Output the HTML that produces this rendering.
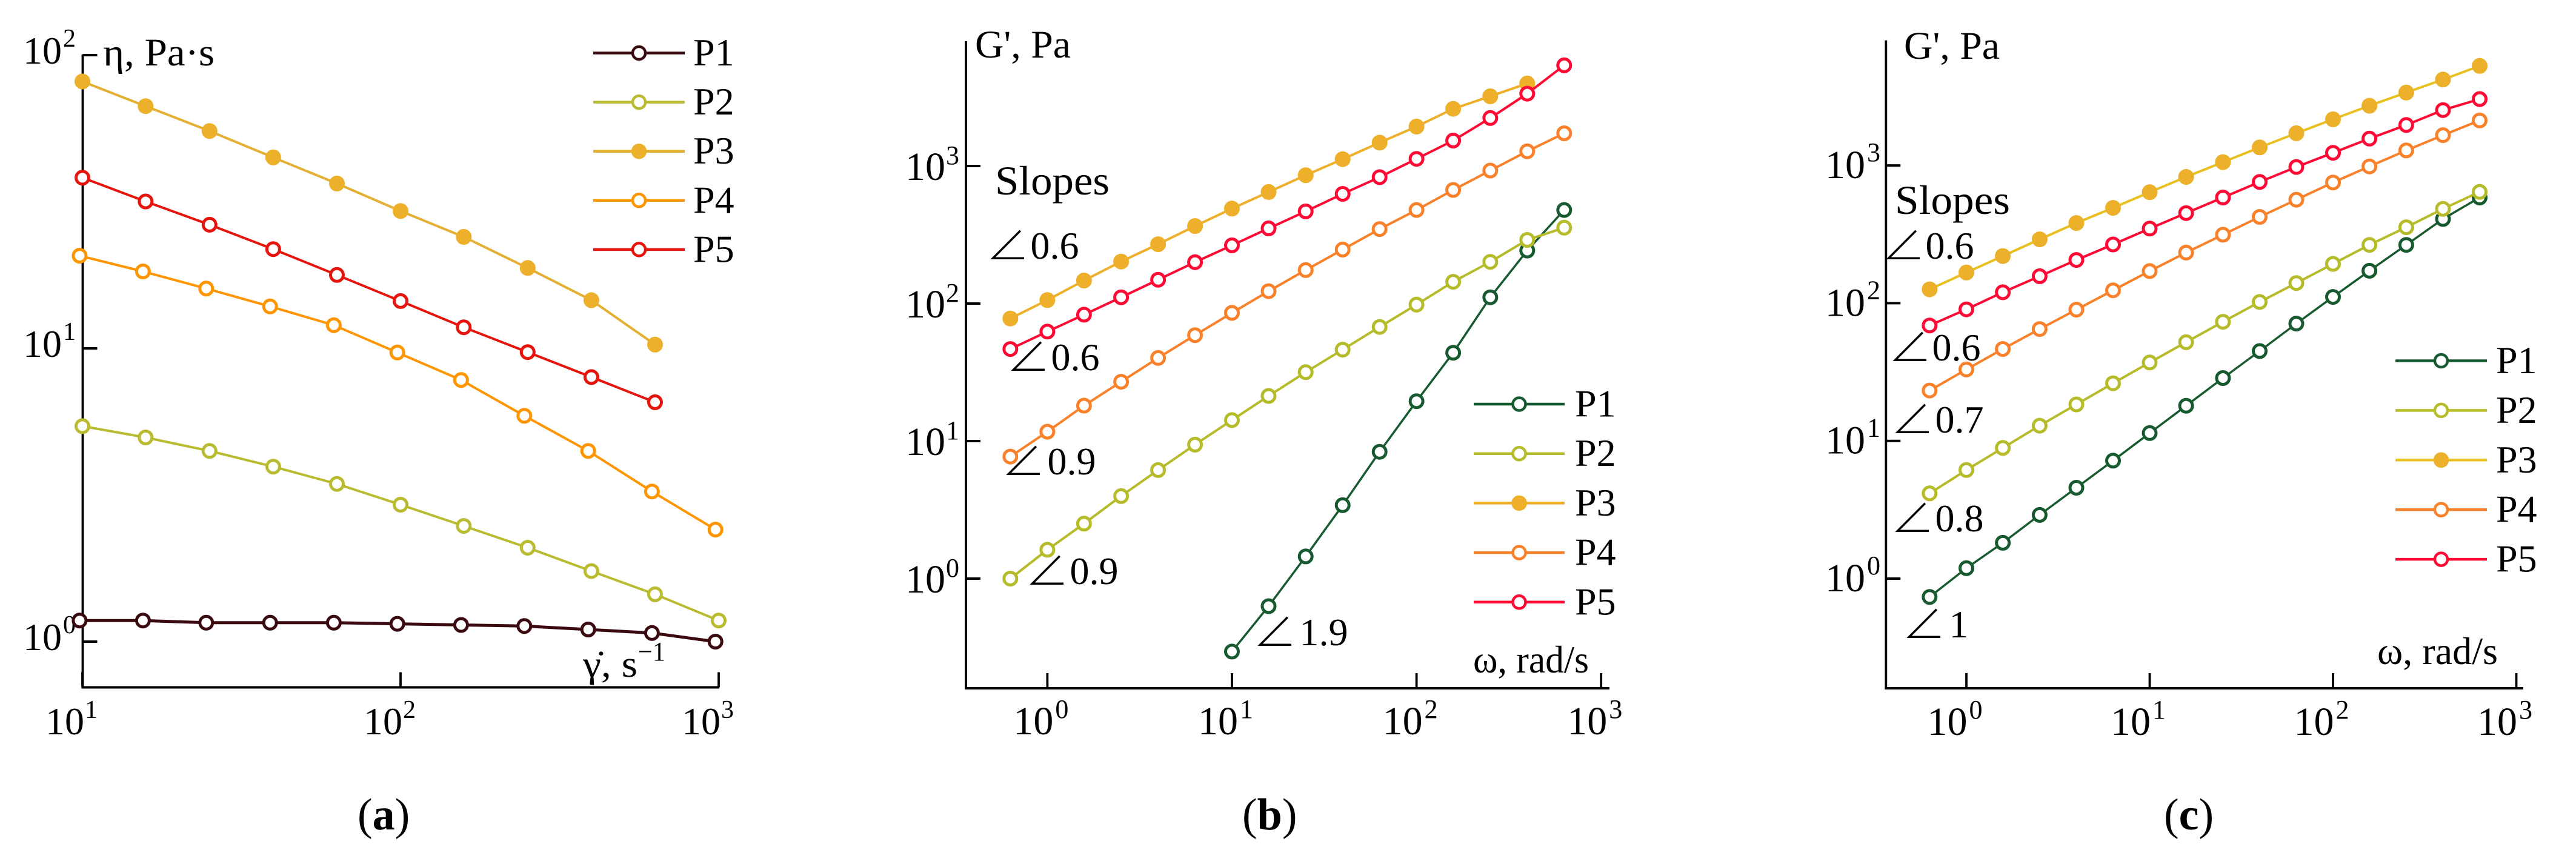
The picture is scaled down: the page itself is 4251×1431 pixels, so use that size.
<!DOCTYPE html>
<html lang="en">
<head>
<meta charset="utf-8">
<title>Rheology log-log charts</title>
<style>
html,body{margin:0;padding:0;background:#fff;}
svg{display:block;}
text{font-family:"Liberation Serif","DejaVu Serif",serif;fill:#000;}
</style>
</head>
<body>
<svg id="figure" xmlns="http://www.w3.org/2000/svg" width="4251" height="1431" viewBox="0 0 4251 1431">
<rect width="4251" height="1431" fill="#fff"/>
</svg>
<script>
// Panel (a): viscosity vs shear rate
const shearRate = [10, 15.8, 25.1, 39.8, 63.1, 100, 158, 251, 398, 631, 1000];
const shearRateOffset = [9.8, 15.5, 24.5, 38.9, 61.7, 97.7, 155, 245, 389, 617, 977];
const etaP1 = [1.18, 1.18, 1.16, 1.16, 1.16, 1.15, 1.14, 1.13, 1.10, 1.07, 1.00];
const etaP2 = [5.43, 4.97, 4.47, 3.95, 3.45, 2.93, 2.48, 2.09, 1.74, 1.45, 1.18];
const etaP3 = [81.3, 67.0, 55.1, 44.8, 36.5, 29.4, 24.0, 18.8, 14.6, 10.3];
const etaP4 = [20.7, 18.3, 16.0, 13.9, 12.0, 9.68, 7.80, 5.89, 4.47, 3.25, 2.41];
const etaP5 = [38.2, 31.7, 26.4, 21.8, 17.8, 14.5, 11.8, 9.71, 7.98, 6.55];
const panelAXTicks = [1, 2, 3];
const panelAYTicks = [0, 1, 2];

// Panel (b): G' vs angular frequency
const omega = [0.63, 1, 1.58, 2.51, 3.98, 6.31, 10, 15.8, 25.1, 39.8, 63.1, 100, 158, 251, 398, 631];
const omegaP1B = [10, 15.8, 25.1, 39.8, 63.1, 100, 158, 251, 398, 631];
const gbP1 = [0.295, 0.630, 1.45, 3.42, 8.36, 19.5, 43.9, 111, 243, 479];
const gbP2 = [1.00, 1.62, 2.51, 3.98, 6.15, 9.42, 14.2, 21.3, 31.7, 46.2, 67.6, 98.2, 144, 201, 290, 356];
const gbP3 = [77.8, 106, 147, 202, 270, 366, 490, 647, 857, 1122, 1479, 1936, 2606, 3214, 3981];
const gbP4 = [7.71, 11.7, 18.1, 27.0, 40.2, 58.9, 85.5, 123, 175, 247, 348, 479, 670, 927, 1279, 1730];
const gbP5 = [46.7, 62.5, 83.0, 111, 149, 200, 265, 352, 468, 627, 830, 1127, 1531, 2234, 3357, 5395];
const panelBXTicks = [0, 1, 2, 3];
const panelBYTicks = [0, 1, 2, 3];

// Panel (c): G' vs angular frequency
const gcP1 = [0.736, 1.19, 1.82, 2.90, 4.57, 7.19, 11.4, 18.0, 28.6, 44.9, 71.1, 111, 172, 265, 409, 585];
const gcP2 = [4.16, 6.14, 8.89, 12.9, 18.4, 26.2, 37.1, 52.1, 73.3, 102, 140, 193, 265, 356, 484, 643];
const gcP3 = [126, 167, 220, 291, 382, 492, 640, 826, 1057, 1352, 1714, 2163, 2716, 3381, 4207, 5284];
const gcP4 = [23.2, 33.0, 46.5, 64.9, 89.7, 124, 171, 233, 314, 423, 564, 752, 984, 1285, 1660, 2123];
const gcP5 = [68.9, 90.2, 120, 157, 206, 267, 348, 451, 585, 759, 975, 1236, 1567, 1968, 2523, 3034];
const panelCXTicks = [0, 1, 2, 3];
const panelCYTicks = [0, 1, 2, 3];

const seriesNames = ['P1', 'P2', 'P3', 'P4', 'P5'];

const NS = 'http://www.w3.org/2000/svg';
const root = document.getElementById('figure');

function make(parent, tag, attrs, name) {
  const el = document.createElementNS(NS, tag);
  for (const k in attrs) el.setAttribute(k, attrs[k]);
  
  
  parent.appendChild(el);
  return el;
}
function label(parent, x, y, str, size, name, width) {
  const a = { x: x, y: y, 'font-size': size };
  if (width) { a.textLength = width; a.lengthAdjust = 'spacingAndGlyphs'; }
  const t = make(parent, 'text', a, name);
  t.textContent = str;
  return t;
}
function power(parent, x, y, exp, name, size, supSize, supDx, supDy) {
  label(parent, x, y, '10', size, name + '-base');
  label(parent, x + supDx, y + supDy, String(exp), supSize, name + '-exponent');
}
function drawSeries(parent, name, xs, ys, sx, sy, color, markColor, filled, lw) {
  const g = make(parent, 'g', {}, 'series-' + name);
  const pts = ys.map((v, i) => sx(xs[i]).toFixed(1) + ',' + sy(v).toFixed(1)).join(' ');
  make(g, 'polyline', { points: pts, fill: 'none', stroke: color, 'stroke-width': lw }, name + '-line');
  ys.forEach((v, i) => {
    make(g, 'circle', { cx: sx(xs[i]).toFixed(1), cy: sy(v).toFixed(1), r: 10.5, fill: filled ? markColor : '#fff', stroke: markColor, 'stroke-width': 5 }, name + '-point');
  });
}
function drawLegend(parent, x1, x2, yTop, step, textX, colors, markColors, filled) {
  const g = make(parent, 'g', {}, 'legend');
  seriesNames.forEach((n, i) => {
    const y = yTop + i * step;
    make(g, 'line', { x1: x1, x2: x2, y1: y, y2: y, stroke: colors[i], 'stroke-width': 4.5 }, 'legend-line-' + n);
    make(g, 'circle', { cx: (x1 + x2) / 2, cy: y, r: 10.5, fill: filled[i] ? markColors[i] : '#fff', stroke: markColors[i], 'stroke-width': 4.5 }, 'legend-marker-' + n);
    label(g, textX, y + 20.5, n, 64, 'legend-label-' + n);
  });
}
function drawAxes(parent, cfg) {
  const g = make(parent, 'g', {}, 'axes');
  make(g, 'line', { x1: cfg.axisX, x2: cfg.axisX, y1: cfg.top, y2: cfg.bottom + 2, stroke: '#000', 'stroke-width': 3.8 }, 'y-axis');
  make(g, 'line', { x1: cfg.axisX - 2, x2: cfg.right, y1: cfg.bottom, y2: cfg.bottom, stroke: '#000', 'stroke-width': 4 }, 'x-axis');
  cfg.xTicks.forEach(e => {
    const x = cfg.sx(Math.pow(10, e));
    make(g, 'line', { x1: x, x2: x, y1: cfg.bottom, y2: cfg.bottom - 25, stroke: '#000', 'stroke-width': 3.8 }, 'x-tick');
    power(g, x + cfg.xLabelDx, cfg.xLabelY, e, 'x-tick-label', cfg.tenSize, cfg.supSize, cfg.xSupDx, -27);
  });
  cfg.yTicks.forEach(e => {
    const y = cfg.sy(Math.pow(10, e));
    make(g, 'line', { x1: cfg.axisX, x2: cfg.axisX + 24, y1: y, y2: y, stroke: '#000', 'stroke-width': 4 }, 'y-tick');
    power(g, cfg.yLabelX, y + cfg.yLabelDy, e, 'y-tick-label', cfg.tenSize, cfg.supSize, cfg.ySupDx, cfg.ySupDy);
  });
}
function logScale(origin, decade, sign) {
  return v => origin + sign * decade * Math.log10(v);
}
function slopeNote(parent, angleX, numX, y, value, name) {
  const g = make(parent, 'g', {}, name);
  const a = label(g, angleX - 8, y + 3, '\u2220', 72, name + '-angle');
  a.setAttribute('style', 'font-family:"Noto Sans CJK JP","DejaVu Sans",sans-serif;font-weight:300');
  label(g, numX - 1.5, y, value, 64, name + '-value');
}
function caption(parent, x, letter, name) {
  const t = make(parent, 'text', { x: x, y: 1369, 'font-size': 74 }, name);
  const a = document.createElementNS(NS, 'tspan');
  a.textContent = '(';
  t.appendChild(a);
  const b = document.createElementNS(NS, 'tspan');
  b.setAttribute('font-weight', 'bold');
  b.textContent = letter;
  t.appendChild(b);
  const c = document.createElementNS(NS, 'tspan');
  c.textContent = ')';
  t.appendChild(c);
}

/* ---------- Panel a ---------- */
const panelA = make(root, 'g', {}, 'panel-a');
const ax = logScale(136 - 525, 525, 1);
const ay = logScale(1059, 484, -1);
drawAxes(panelA, { axisX: 136.5, top: 90, bottom: 1134.5, right: 1187, sx: ax, sy: ay, xTicks: panelAXTicks, yTicks: panelAYTicks,
  xLabelDx: -61, xLabelY: 1212, xSupDx: 65, yLabelX: 38, yLabelDy: 14, ySupDx: 66, ySupDy: -28, tenSize: 64, supSize: 42 });
const colA = ['#3a0a10', '#b9bb30', '#e4b033', '#ff9500', '#e5150d'];
const markA = ['#3a0a10', '#b9bb30', '#edb02a', '#ff9500', '#e5150d'];
drawSeries(panelA, 'P1', shearRateOffset, etaP1, ax, ay, colA[0], markA[0], false, 5);
drawSeries(panelA, 'P2', shearRate, etaP2, ax, ay, colA[1], markA[1], false, 4);
drawSeries(panelA, 'P3', shearRate, etaP3, ax, ay, colA[2], markA[2], true, 4);
drawSeries(panelA, 'P4', shearRateOffset, etaP4, ax, ay, colA[3], markA[3], false, 4);
drawSeries(panelA, 'P5', shearRate, etaP5, ax, ay, colA[4], markA[4], false, 4);
drawLegend(panelA, 979, 1130, 87.5, 81.1, 1144, colA, markA, [false, false, true, false, false]);
label(panelA, 170, 108, '\u03B7, Pa\u00B7s', 65, 'y-axis-title', 184);
label(panelA, 962, 1117, '\u03B3\u0307, s', 62, 'x-axis-title', 90);
label(panelA, 1053, 1090, '\u22121', 44, 'x-axis-title-exponent', 45);
caption(panelA, 590, 'a', 'caption-a');

/* ---------- Panel b ---------- */
const panelB = make(root, 'g', {}, 'panel-b');
const bx = logScale(1728.4, 304.6, 1);
const by = logScale(955, 227, -1);
drawAxes(panelB, { axisX: 1594, top: 68, bottom: 1136, right: 2656, sx: bx, sy: by, xTicks: panelBXTicks, yTicks: panelBYTicks,
  xLabelDx: -56, xLabelY: 1212, xSupDx: 69, yLabelX: 1494, yLabelDy: 23, ySupDx: 67, ySupDy: -26, tenSize: 66, supSize: 44 });
const colB = ['#175a30', '#b6bb2a', '#eeb02a', '#f9812a', '#ff0a35'];
const markB = colB;
drawSeries(panelB, 'P1', omegaP1B, gbP1, bx, by, colB[0], markB[0], false, 3.5);
drawSeries(panelB, 'P2', omega, gbP2, bx, by, colB[1], markB[1], false, 4);
drawSeries(panelB, 'P3', omega, gbP3, bx, by, colB[2], markB[2], true, 4);
drawSeries(panelB, 'P4', omega, gbP4, bx, by, colB[3], markB[3], false, 4);
drawSeries(panelB, 'P5', omega, gbP5, bx, by, colB[4], markB[4], false, 4);
drawLegend(panelB, 2432, 2582, 667, 81.7, 2599, colB, markB, [false, false, true, false, false]);
label(panelB, 1609, 95, "G', Pa", 65, 'y-axis-title', 158);
label(panelB, 2431, 1110, '\u03C9, rad/s', 64, 'x-axis-title', 191);
label(panelB, 1642, 321, 'Slopes', 68, 'slopes-heading', 189);
slopeNote(panelB, 1635, 1702, 427, '0.6', 'slope-p3');
slopeNote(panelB, 1669, 1736, 611, '0.6', 'slope-p5');
slopeNote(panelB, 1661, 1730, 783, '0.9', 'slope-p4');
slopeNote(panelB, 1700, 1767, 964, '0.9', 'slope-p2');
slopeNote(panelB, 2076, 2146, 1065, '1.9', 'slope-p1');
caption(panelB, 2050, 'b', 'caption-b');

/* ---------- Panel c ---------- */
const panelC = make(root, 'g', {}, 'panel-c');
const cx = logScale(3245, 302.5, 1);
const cy = logScale(955, 227.3, -1);
drawAxes(panelC, { axisX: 3112.3, top: 66.6, bottom: 1136, right: 4164, sx: cx, sy: cy, xTicks: panelCXTicks, yTicks: panelCYTicks,
  xLabelDx: -64.5, xLabelY: 1213, xSupDx: 69, yLabelX: 3012, yLabelDy: 21, ySupDx: 69, ySupDy: -28, tenSize: 66, supSize: 44 });
const colC = ['#175a30', '#b6bb2a', '#e8c020', '#f9812a', '#ff0a35'];
const markC = ['#175a30', '#b6bb2a', '#edb02a', '#f9812a', '#ff0a35'];
drawSeries(panelC, 'P1', omega, gcP1, cx, cy, colC[0], markC[0], false, 3.5);
drawSeries(panelC, 'P2', omega, gcP2, cx, cy, colC[1], markC[1], false, 4);
drawSeries(panelC, 'P3', omega, gcP3, cx, cy, colC[2], markC[2], true, 4);
drawSeries(panelC, 'P4', omega, gcP4, cx, cy, colC[3], markC[3], false, 4);
drawSeries(panelC, 'P5', omega, gcP5, cx, cy, colC[4], markC[4], false, 4);
drawLegend(panelC, 3953, 4104, 595.5, 81.9, 4119, colC, markC, [false, false, true, false, false]);
label(panelC, 3142, 97, "G', Pa", 65, 'y-axis-title', 158);
label(panelC, 3923, 1096, '\u03C9, rad/s', 64, 'x-axis-title', 199);
label(panelC, 3127, 353, 'Slopes', 68, 'slopes-heading', 190);
slopeNote(panelC, 3113, 3179, 427, '0.6', 'slope-p3');
slopeNote(panelC, 3124, 3190, 595, '0.6', 'slope-p5');
slopeNote(panelC, 3128, 3195, 714, '0.7', 'slope-p4');
slopeNote(panelC, 3128, 3195, 877, '0.8', 'slope-p2');
slopeNote(panelC, 3147, 3218, 1052, '1', 'slope-p1');
caption(panelC, 3571, 'c', 'caption-c');
</script>
</body>
</html>
